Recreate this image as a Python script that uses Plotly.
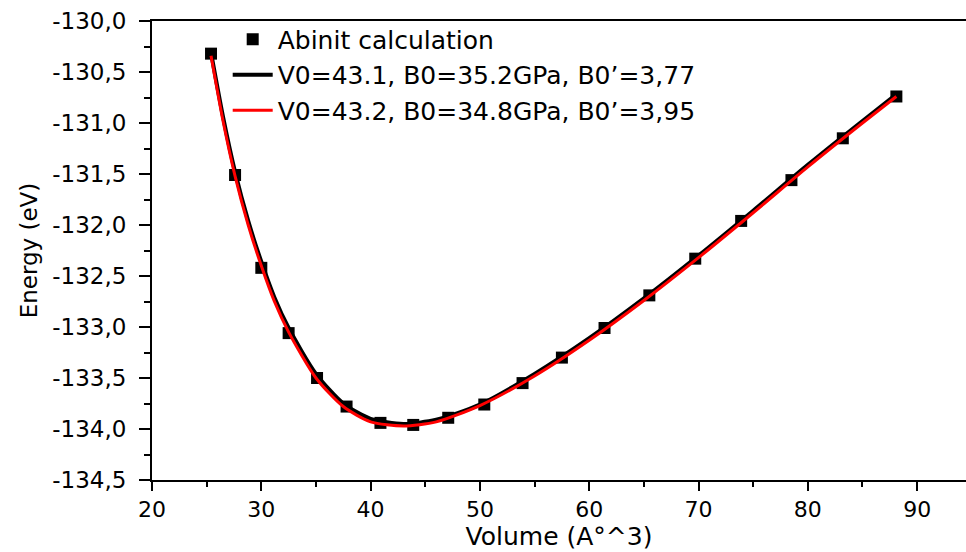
import plotly.graph_objects as go

# Abinit calculation points
volume = [25.4, 27.6, 30.0, 32.5, 35.1, 37.8, 40.9, 43.9, 47.1, 50.4, 53.9, 57.5, 61.4, 65.5, 69.7, 73.9, 78.5, 83.2, 88.1]
energy = [-130.32, -131.51, -132.42, -133.06, -133.50, -133.78, -133.94, -133.96, -133.89, -133.76, -133.55, -133.30,
          -133.01, -132.69, -132.33, -131.96, -131.56, -131.15, -130.74]

# Fit curves
fit_v = [25.4, 26.5, 27.6, 28.8, 30.0, 31.2, 32.5, 35.0, 37.5, 40.0, 43.0, 46.0, 50.0, 55.0, 60.0, 65.0, 70.0, 75.0, 80.0, 85.0, 88.1]
fit_black = [-130.31, -130.94, -131.48, -131.96, -132.36, -132.71, -133.01, -133.46, -133.75, -133.90, -133.95, -133.91,
             -133.76, -133.46, -133.11, -132.72, -132.30, -131.86, -131.41, -130.98, -130.72]
fit_red = [-130.34, -130.98, -131.52, -132.00, -132.40, -132.75, -133.05, -133.50, -133.78, -133.93, -133.97, -133.93,
           -133.77, -133.48, -133.13, -132.74, -132.32, -131.88, -131.43, -131.00, -130.74]

names = ["Abinit calculation", "V0=43.1, B0=35.2GPa, B0\u2019=3,77", "V0=43.2, B0=34.8GPa, B0\u2019=3,95"]

x_ticks = [20, 30, 40, 50, 60, 70, 80, 90]
x_ticktext = ["20", "30", "40", "50", "60", "70", "80", "90"]
y_ticks = [-130.0, -130.5, -131.0, -131.5, -132.0, -132.5, -133.0, -133.5, -134.0, -134.5]
y_ticktext = ["-130,0", "-130,5", "-131,0", "-131,5", "-132,0", "-132,5", "-133,0", "-133,5", "-134,0", "-134,5"]

FONT = "DejaVu Sans, Liberation Sans, Arial, sans-serif"

fig = go.Figure()
fig.add_trace(go.Scatter(x=volume, y=energy, mode="markers", name=names[0],
                         marker=dict(symbol="square", size=12, color="black")))
fig.add_trace(go.Scatter(x=fit_v, y=fit_black, mode="lines", name=names[1], line_shape="spline",
                         line=dict(color="black", width=4, smoothing=0.7)))
fig.add_trace(go.Scatter(x=fit_v, y=fit_red, mode="lines", name=names[2], line_shape="spline",
                         line=dict(color="#ff0000", width=3, smoothing=0.7)))

fig.update_layout(
    width=966, height=552,
    margin=dict(l=152, r=0, t=21, b=72),
    plot_bgcolor="white", paper_bgcolor="white",
    font=dict(family=FONT, color="black"),
    showlegend=True,
    legend=dict(x=0.093, y=1.01, xanchor="left", yanchor="top", bgcolor="rgba(0,0,0,0)",
                font=dict(size=25, family=FONT), tracegroupgap=0, itemwidth=40),
)
fig.update_xaxes(
    range=[20, 94.47], showline=True, linecolor="black", linewidth=2, mirror=True,
    tickvals=x_ticks, ticktext=x_ticktext, ticks="outside", ticklen=9, tickwidth=2, tickcolor="black",
    minor=dict(dtick=5, tick0=0, ticks="outside", ticklen=5, tickwidth=2, tickcolor="black", showgrid=False),
    showgrid=False, zeroline=False, tickfont=dict(size=22),
    title=dict(text="Volume (A\u00b0^3)", font=dict(size=25), standoff=4),
)
fig.update_yaxes(
    range=[-134.5, -130.0], showline=True, linecolor="black", linewidth=2,
    tickvals=y_ticks, ticktext=y_ticktext, ticks="outside", ticklen=11, tickwidth=2, tickcolor="black",
    minor=dict(dtick=0.25, tick0=0, ticks="outside", ticklen=6, tickwidth=2, tickcolor="black", showgrid=False),
    showgrid=False, zeroline=False, tickfont=dict(size=23), ticklabelstandoff=8,
    title=dict(text="Energy (eV)", font=dict(size=23), standoff=8),
)

fig.write_html("out.html", config={"displayModeBar": False},
               post_script="document.body.style.margin='0';document.body.style.overflow='hidden';")
